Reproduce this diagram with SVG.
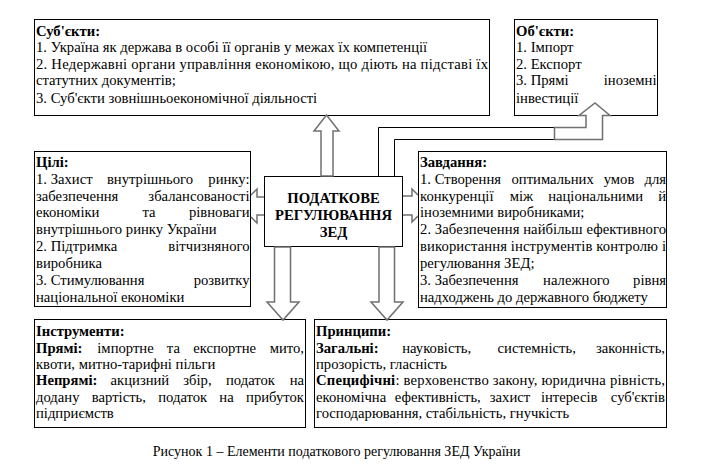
<svg xmlns="http://www.w3.org/2000/svg" width="718" height="470" viewBox="0 0 718 470">
<style>
.t{font-family:"Liberation Serif","Times New Roman",serif;font-size:14.67px;fill:#000}
.b{font-weight:bold}
.m{text-anchor:middle}
.e{text-anchor:end}
.box{fill:#fff;stroke:#000;stroke-width:1}
.arr{fill:#fff;stroke:#707070;stroke-width:1.5;stroke-linejoin:miter}
.ln{fill:none;stroke:#000;stroke-width:1}
.cap{font-family:"Liberation Serif","Times New Roman",serif;font-size:14px;fill:#000}
</style>
<rect width="718" height="470" fill="#fff"/>

<g id="subjects">
<rect class="box" x="34.5" y="19.5" width="455" height="96"/>
<text class="t b" x="36" y="36">Суб'єкти:</text>
<text class="t" x="36" y="52">1. Україна як держава в особі її органів у межах їх компетенції</text>
<text class="t" x="36" y="68.5" textLength="452" lengthAdjust="spacing">2. Недержавні органи управління економікою, що діють на підставі їх</text>
<text class="t" x="36" y="85">статутних документів;</text>
<text class="t" x="36" y="103">3. Суб'єкти зовнішньоекономічної діяльності</text>
</g>

<g id="objects">
<rect class="box" x="514.5" y="19.5" width="143" height="96"/>
<text class="t b" x="516" y="36">Об'єкти:</text>
<text class="t" x="516" y="52">1. Імпорт</text>
<text class="t" x="516" y="68.5">2. Експорт</text>
<text class="t" x="516" y="85">3. Прямі</text>
<text class="t e" x="656.5" y="85">іноземні</text>
<text class="t" x="516" y="103">інвестиції</text>
</g>

<g id="goals">
<rect class="box" x="34.5" y="151.5" width="216" height="155"/>
<text class="t b" x="36" y="167">Цілі:</text>
<text class="t" x="36" y="184">1. Захист</text>
<text class="t m" x="150" y="184">внутрішнього</text>
<text class="t e" x="249.5" y="184">ринку:</text>
<text class="t" x="36" y="200.5">забезпечення</text>
<text class="t e" x="249.5" y="200.5">збалансованості</text>
<text class="t" x="36" y="217">економіки</text>
<text class="t m" x="149" y="217">та</text>
<text class="t e" x="249.5" y="217">рівноваги</text>
<text class="t" x="36" y="234">внутрішнього ринку України</text>
<text class="t" x="36" y="251">2. Підтримка</text>
<text class="t e" x="249.5" y="251">вітчизняного</text>
<text class="t" x="36" y="268">виробника</text>
<text class="t" x="36" y="285">3. Стимулювання</text>
<text class="t e" x="249.5" y="285">розвитку</text>
<text class="t" x="36" y="301.5">національної економіки</text>
</g>

<g id="center">
<rect class="box" x="264.5" y="176.5" width="138" height="70"/>
<text class="t b m" x="333.5" y="203">ПОДАТКОВЕ</text>
<text class="t b m" x="333.5" y="220">РЕГУЛЮВАННЯ</text>
<text class="t b m" x="333.5" y="236.5">ЗЕД</text>
</g>

<g id="tasks">
<rect class="box" x="418.5" y="151.5" width="248" height="156"/>
<text class="t b" x="420" y="167">Завдання:</text>
<text class="t" x="420" y="184">1. Створення</text>
<text class="t m" x="552.6" y="184">оптимальних</text>
<text class="t m" x="619" y="184">умов</text>
<text class="t e" x="666" y="184">для</text>
<text class="t" x="420" y="200.5">конкуренції</text>
<text class="t m" x="521.4" y="200.5">між</text>
<text class="t m" x="595.6" y="200.5">національними</text>
<text class="t e" x="666" y="200.5">й</text>
<text class="t" x="420" y="217">іноземними виробниками;</text>
<text class="t" x="420" y="234" textLength="246" lengthAdjust="spacing">2. Забезпечення найбільш ефективного</text>
<text class="t" x="420" y="251" textLength="246" lengthAdjust="spacing">використання інструментів контролю і</text>
<text class="t" x="420" y="268">регулювання ЗЕД;</text>
<text class="t" x="420" y="285">3. Забезпечення</text>
<text class="t m" x="576.4" y="285">належного</text>
<text class="t e" x="666" y="285">рівня</text>
<text class="t" x="420" y="301.5">надходжень до державного бюджету</text>
</g>

<g id="instruments">
<rect class="box" x="34.5" y="319.5" width="271" height="108"/>
<text class="t b" x="36" y="336">Інструменти:</text>
<text class="t b" x="36" y="352.5">Прямі:</text>
<text class="t m" x="125.5" y="352.5">імпортне</text>
<text class="t m" x="173.4" y="352.5">та</text>
<text class="t m" x="224.6" y="352.5">експортне</text>
<text class="t e" x="304" y="352.5">мито,</text>
<text class="t" x="36" y="368.5">квоти, митно-тарифні пільги</text>
<text class="t b" x="36" y="385">Непрямі:</text>
<text class="t m" x="139.9" y="385">акцизний</text>
<text class="t m" x="197.4" y="385">збір,</text>
<text class="t m" x="250.5" y="385">податок</text>
<text class="t e" x="304" y="385">на</text>
<text class="t" x="36" y="401.5">додану</text>
<text class="t m" x="118.9" y="401.5">вартість,</text>
<text class="t m" x="182.7" y="401.5">податок</text>
<text class="t m" x="226.5" y="401.5">на</text>
<text class="t e" x="304" y="401.5">прибуток</text>
<text class="t" x="36" y="418">підприємств</text>
</g>

<g id="principles">
<rect class="box" x="314.5" y="319.5" width="352" height="108"/>
<text class="t b" x="316" y="336">Принципи:</text>
<text class="t b" x="316" y="352.5">Загальні:</text>
<text class="t m" x="436.7" y="352.5">науковість,</text>
<text class="t m" x="536.7" y="352.5">системність,</text>
<text class="t e" x="665" y="352.5">законність,</text>
<text class="t" x="316" y="368.5">прозорість, гласність</text>
<text class="t" x="316" y="385" textLength="349" lengthAdjust="spacing"><tspan class="b">Специфічні</tspan>: верховенство закону, юридична рівність,</text>
<text class="t" x="316" y="401.5">економічна</text>
<text class="t m" x="437.8" y="401.5">ефективність,</text>
<text class="t m" x="510" y="401.5">захист</text>
<text class="t m" x="569.2" y="401.5">інтересів</text>
<text class="t e" x="665" y="401.5">суб'єктів</text>
<text class="t" x="316" y="418">господарювання, стабільність, гнучкість</text>
</g>

<g id="connectors">
<polygon class="arr" points="321,176 321,131 314,131 326.5,115 339,131 333,131 333,176"/>
<path class="ln" d="M378.5,176 V127.5 H554.5 M394.5,176 V139.5 H554.5 M554.5,127.5 V139.5"/>
<polygon class="arr" points="554.5,127.5 586,127.5 586,115.5 579,115.5 595,103 610,115.5 602.5,115.5 602.5,139.5 554.5,139.5"/>
<path class="arr" fill="none" d="M264,197 H257 V189 L251,195 M251,217 L257,223 V215 H264"/>
<path class="arr" fill="none" d="M403,196 H412 V189 L418,195 M418,216 L412,222 V215 H403"/>
<polygon class="arr" points="274.5,247 274.5,302 267,302 283,320 299,302 290.5,302 290.5,247"/>
<polygon class="arr" points="379,247 379,302 371,302 387,320 403,302 394.5,302 394.5,247"/>
</g>

<text class="cap m" x="336.7" y="456">Рисунок 1 – Елементи податкового регулювання ЗЕД України</text>
</svg>
